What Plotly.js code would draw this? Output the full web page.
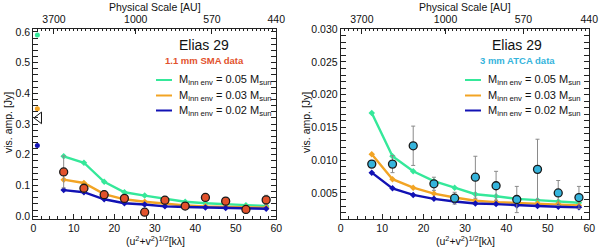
<!DOCTYPE html>
<html><head><meta charset="utf-8">
<script src="https://cdn.plot.ly/plotly-3.0.1.min.js"></script>
<style>html,body{margin:0;padding:0;background:#fff}#c{width:600px;height:252px}</style>
</head><body><div id="c"></div>
<script>
const uv = [7.5,12.5,17.5,22.5,27.5,32.5,37.5,42.5,47.5,52.5,57.5];
const smaM05 = [0.195,0.174,0.112,0.078,0.067,0.056,0.047,0.042,0.038,0.036,0.033];
const smaM03 = [0.119,0.108,0.072,0.055,0.047,0.040,0.035,0.032,0.031,0.029,0.028];
const smaM02 = [0.085,0.078,0.055,0.042,0.038,0.032,0.030,0.028,0.027,0.025,0.024];
const smaObs = [0.144,0.091,0.070,0.058,0.013,0.052,0.033,0.061,0.049,0.022,0.053];
const smaErr = [0.052,0.012,0.012,0.008,0.008,0.010,0.008,0.008,0.012,0.012,0.015];
const zsX = [1.0];
const zsM05 = [0.59], zsM03 = [0.35], zsM02 = [0.23];
const zsObsX = [1.4], zsObs = [0.32];
const atcaM05 = [0.0172,0.0106,0.0083,0.0068,0.0058,0.0048,0.0045,0.0041,0.0039,0.0037,0.0035];
const atcaM03 = [0.0109,0.0071,0.0058,0.0049,0.0043,0.0038,0.0036,0.0035,0.0034,0.0033,0.0031];
const atcaM02 = [0.0081,0.0057,0.0047,0.0041,0.0037,0.0034,0.0033,0.0031,0.0030,0.0029,0.0028];
const atcaObs = [0.0094,0.0094,0.0122,0.0064,0.0042,0.0074,0.0061,0.0040,0.0086,0.0050,0.0043];
const atcaErr = [0.0005,0.0013,0.0030,0.0010,0.0009,0.0032,0.0022,0.0020,0.0046,0.0019,0.0017];
const auTickPos = [5.1,25.3,44.1,60];
const auTickText = ['3700','1000','570','440'];
const legendLabels = ['M<sub>inn env</sub> = 0.05 M<sub>sun</sub>','M<sub>inn env</sub> = 0.03 M<sub>sun</sub>','M<sub>inn env</sub> = 0.02 M<sub>sun</sub>'];

const cG = '#35e89a', cO = '#f2a424', cB = '#1212b4';
const cSMA = '#e2522c', cATCA = '#35b4dc';
const F = 'Liberation Sans, Arial, sans-serif';

function model(x, y, c, xa, ya){
  return {x:x, y:y, xaxis:xa, yaxis:ya, mode:'lines+markers', type:'scatter',
    line:{color:c, width:2.4}, marker:{color:c, size:5, symbol:'diamond'}, showlegend:false, hoverinfo:'skip'};
}
function obs(x, y, e, c, xa, ya){
  return {x:x, y:y, xaxis:xa, yaxis:ya, mode:'markers', type:'scatter',
    error_y:{type:'data', array:e, color:'#8a8a8a', thickness:1, width:2},
    marker:{color:c, size:8, line:{color:'#1a1a1a', width:1.3}}, showlegend:false, hoverinfo:'skip'};
}
const traces = [
  model(uv, smaM05, cG, 'x', 'y'),
  model(uv, smaM03, cO, 'x', 'y'),
  model(uv, smaM02, cB, 'x', 'y'),
  obs(uv, smaObs, smaErr, cSMA, 'x', 'y'),
  {x:zsX, y:zsM05, xaxis:'x', yaxis:'y', mode:'markers', cliponaxis:false, marker:{color:cG,size:5}, showlegend:false},
  {x:zsX, y:zsM03, xaxis:'x', yaxis:'y', mode:'markers', cliponaxis:false, marker:{color:cO,size:5}, showlegend:false},
  {x:zsX, y:zsM02, xaxis:'x', yaxis:'y', mode:'markers', cliponaxis:false, marker:{color:cB,size:5}, showlegend:false},
  {x:zsObsX, y:zsObs, xaxis:'x', yaxis:'y', mode:'markers', cliponaxis:false, marker:{symbol:'triangle-left-open',color:'#111',size:10,line:{width:1}}, showlegend:false},
  model(uv, atcaM05, cG, 'x2', 'y2'),
  model(uv, atcaM03, cO, 'x2', 'y2'),
  model(uv, atcaM02, cB, 'x2', 'y2'),
  obs(uv, atcaObs, atcaErr, cATCA, 'x2', 'y2'),
  {x:[0,60], y:[0.3,0.3], xaxis:'x3', yaxis:'y', mode:'none', showlegend:false, hoverinfo:'skip'},
  {x:[0,60], y:[0.01,0.01], xaxis:'x4', yaxis:'y2', mode:'none', showlegend:false, hoverinfo:'skip'}
];

const px = v => v/600, py = v => 1 - v/252;
const yDom = [py(218.5), py(28.5)];
const xDomL = [px(33.3), px(276.3)];
const xDomR = [px(340.7), px(589.3)];

const tickFont = {family:F, size:10.5, color:'#111'};
function xBottom(dom, anchor){
  return {domain:dom, anchor:anchor, range:[0,60], tickvals:[0,10,20,30,40,50,60], ticks:'inside', ticklen:5,
    tickcolor:'#222', showline:true, linecolor:'#222', linewidth:1, showgrid:false, zeroline:false,
    tickfont:tickFont, minor:{dtick:2, tick0:0, ticks:'inside', ticklen:2.5, tickcolor:'#222'}};
}
function xTop(ov, anchor){
  return {overlaying:ov, anchor:anchor, side:'top', range:[0,60], tickmode:'array', tickvals:auTickPos, ticktext:auTickText,
    ticks:'inside', ticklen:5, tickcolor:'#222', showline:true, linecolor:'#222', linewidth:1, showgrid:false, zeroline:false,
    tickfont:tickFont, minor:{dtick:1, tick0:0, ticks:'inside', ticklen:2.5, tickcolor:'#222'}};
}
function yAx(anchor, range, tv, dt, fmt){
  return {domain:yDom, anchor:anchor, range:range, tickvals:tv, tickformat:fmt, ticks:'inside', ticklen:5, tickcolor:'#222',
    showline:true, mirror:'allticks', linecolor:'#222', linewidth:1, showgrid:false, zeroline:false, tickfont:tickFont,
    minor:{dtick:dt, tick0:0, ticks:'inside', ticklen:2.5, tickcolor:'#222'}};
}

const layout = {
  width:600, height:252, margin:{l:0,r:0,t:0,b:0}, paper_bgcolor:'#fff', plot_bgcolor:'#fff', showlegend:false,
  font:{family:F, color:'#111'},
  xaxis: xBottom(xDomL, 'y'),
  xaxis2: xBottom(xDomR, 'y2'),
  xaxis3: xTop('x', 'y'),
  xaxis4: xTop('x2', 'y2'),
  yaxis: yAx('x', [-0.0075, 0.611], [0,0.1,0.2,0.3,0.4,0.5,0.6], 0.02, '.1f'),
  yaxis2: yAx('x2', [0.0011, 0.0301], [0.005,0.010,0.015,0.020,0.025,0.030], 0.001, '.3f'),
  shapes: [], annotations: []
};

const A = layout.annotations, S = layout.shapes;
function txt(x, y, t, size, opts){ A.push(Object.assign({xref:'paper', yref:'paper', x:px(x), y:py(y), text:t, showarrow:false,
  font:{family:F, size:size, color:'#111'}, xanchor:'center', yanchor:'middle'}, opts||{})); }

[155, 465].forEach(cx => txt(cx, 7, 'Physical Scale [AU]', 10.5));
[155, 465].forEach(cx => txt(cx, 240, '(u<sup>2</sup>+v<sup>2</sup>)<sup>1/2</sup>[kλ]', 10.5));
txt(8, 123, 'vis. amp. [Jy]', 10.5, {textangle:-90});
txt(306, 123, 'vis. amp. [Jy]', 10.5, {textangle:-90});

txt(204, 45, 'Elias 29', 14);
txt(204, 60, '<b>1.1 mm SMA data</b>', 9.5, {font:{family:F, size:9.5, color:cSMA}});
txt(517, 45, 'Elias 29', 14);
txt(517, 60, '<b>3 mm ATCA data</b>', 9.5, {font:{family:F, size:9.5, color:cATCA}});

const legCols = [cG, cO, cB];
const legRows = [80, 95.5, 110.5];
[[156, 172, 177], [465, 481, 486]].forEach(([x0, x1, tx]) => {
  legRows.forEach((ry, i) => {
    S.push({type:'line', xref:'paper', yref:'paper', x0:px(x0), x1:px(x1), y0:py(ry), y1:py(ry), line:{color:legCols[i], width:2}});
    txt(tx, ry, legendLabels[i], 11, {xanchor:'left'});
  });
});

Plotly.newPlot('c', traces, layout, {staticPlot:true, displayModeBar:false});
</script></body></html>
